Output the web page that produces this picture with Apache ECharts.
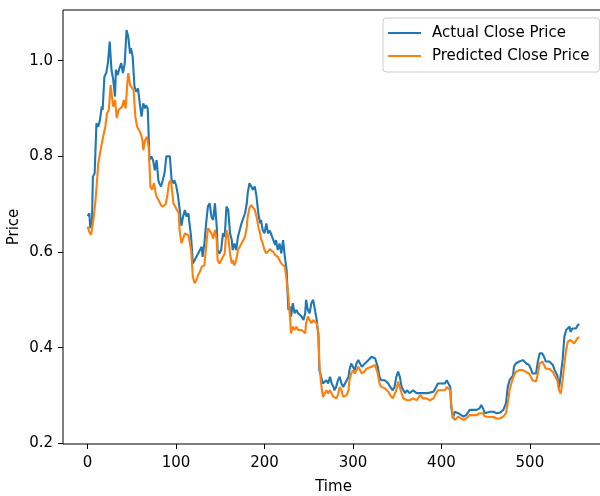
<!DOCTYPE html>
<html>
<head>
<meta charset="utf-8">
<script src="https://cdn.jsdelivr.net/npm/echarts@6/dist/echarts.min.js"></script>
<style>html,body{margin:0;padding:0;background:#fff}#c{width:600px;height:496px}</style>
</head>
<body>
<div id="c"></div>
<script>
const xTicks = [0, 100, 200, 300, 400, 500];
const yTicks = [0.2, 0.4, 0.6, 0.8, 1.0];
const seriesNames = ['Actual Close Price', 'Predicted Close Price'];

// [time, price]
const actualClose = [[0,0.675],[2,0.681],[3,0.650],[5,0.667],[6,0.757],[8,0.765],[10,0.869],[12,0.862],[14,0.876],[16,0.904],[17,0.897],[19,0.967],[21,0.974],[23,0.995],[25,1.040],[27,0.981],[29,0.960],[31,0.925],[32,0.981],[34,0.970],[36,0.984],[38,0.995],[40,0.974],[42,0.995],[44,1.064],[46,1.050],[48,1.015],[49,1.026],[51,1.008],[53,0.946],[55,0.935],[57,0.942],[59,0.911],[61,0.883],[63,0.911],[65,0.900],[66,0.907],[68,0.900],[70,0.792],[72,0.800],[74,0.792],[76,0.771],[78,0.792],[80,0.750],[81,0.744],[83,0.737],[85,0.750],[87,0.765],[89,0.800],[91,0.803],[93,0.800],[95,0.750],[97,0.744],[98,0.750],[100,0.740],[102,0.720],[104,0.690],[106,0.655],[108,0.674],[110,0.688],[112,0.674],[114,0.681],[115,0.663],[117,0.632],[119,0.576],[121,0.583],[123,0.590],[125,0.597],[127,0.604],[129,0.611],[130,0.590],[132,0.618],[134,0.660],[136,0.695],[138,0.702],[140,0.674],[142,0.667],[144,0.702],[146,0.653],[147,0.604],[149,0.597],[151,0.604],[153,0.639],[155,0.632],[157,0.695],[159,0.688],[161,0.639],[163,0.625],[164,0.604],[166,0.618],[168,0.604],[170,0.632],[172,0.646],[174,0.660],[176,0.660],[178,0.681],[180,0.702],[181,0.723],[183,0.744],[185,0.747],[187,0.730],[189,0.737],[191,0.716],[193,0.681],[195,0.660],[196,0.667],[198,0.646],[200,0.639],[202,0.660],[204,0.639],[206,0.645],[208,0.635],[210,0.632],[212,0.615],[213,0.625],[215,0.604],[217,0.618],[219,0.597],[221,0.625],[223,0.590],[225,0.562],[227,0.479],[229,0.486],[230,0.465],[232,0.493],[234,0.472],[236,0.479],[238,0.472],[240,0.476],[242,0.465],[244,0.458],[246,0.472],[247,0.500],[249,0.479],[251,0.472],[253,0.493],[255,0.500],[257,0.479],[259,0.458],[261,0.423],[262,0.353],[264,0.339],[266,0.325],[268,0.328],[270,0.332],[272,0.325],[274,0.339],[276,0.325],[278,0.318],[279,0.311],[281,0.318],[283,0.332],[285,0.339],[287,0.325],[289,0.318],[291,0.325],[293,0.332],[295,0.339],[296,0.353],[298,0.367],[300,0.360],[302,0.353],[304,0.367],[306,0.374],[308,0.367],[310,0.360],[312,0.363],[313,0.366],[315,0.370],[317,0.373],[321,0.381],[323,0.385],[325,0.378],[327,0.374],[328,0.360],[330,0.339],[332,0.332],[334,0.336],[336,0.332],[338,0.329],[340,0.325],[342,0.318],[344,0.315],[345,0.311],[347,0.318],[349,0.339],[351,0.350],[353,0.339],[355,0.318],[357,0.311],[359,0.305],[361,0.311],[362,0.308],[364,0.305],[366,0.308],[368,0.311],[370,0.308],[372,0.305],[374,0.308],[376,0.305],[377,0.308],[379,0.305],[381,0.308],[383,0.305],[385,0.308],[387,0.306],[389,0.305],[391,0.308],[393,0.311],[394,0.318],[396,0.325],[398,0.325],[400,0.325],[402,0.322],[404,0.325],[406,0.332],[408,0.329],[410,0.318],[411,0.277],[413,0.252],[415,0.266],[417,0.266],[419,0.263],[421,0.259],[425,0.256],[428,0.259],[432,0.270],[436,0.270],[440,0.270],[443,0.273],[445,0.280],[447,0.273],[449,0.263],[451,0.266],[455,0.266],[459,0.266],[462,0.263],[466,0.264],[470,0.270],[473,0.284],[475,0.318],[477,0.332],[479,0.332],[481,0.342],[482,0.360],[484,0.367],[486,0.367],[488,0.371],[490,0.367],[492,0.374],[494,0.371],[496,0.367],[497,0.371],[499,0.364],[501,0.356],[503,0.346],[505,0.342],[507,0.346],[509,0.371],[511,0.388],[513,0.392],[514,0.388],[516,0.381],[518,0.371],[520,0.367],[522,0.371],[524,0.367],[526,0.364],[528,0.353],[530,0.353],[531,0.342],[533,0.315],[535,0.311],[537,0.374],[539,0.423],[541,0.437],[543,0.437],[545,0.444],[546,0.433],[548,0.440],[550,0.444],[552,0.440],[554,0.447],[556,0.449]];

const predictedClose = [[0,0.653],[2,0.642],[4,0.636],[5,0.640],[7,0.674],[9,0.709],[11,0.757],[12,0.785],[14,0.806],[16,0.827],[18,0.827],[20,0.862],[22,0.890],[24,0.897],[26,0.949],[28,0.918],[29,0.904],[31,0.918],[33,0.880],[35,0.897],[37,0.900],[39,0.904],[41,0.918],[43,0.900],[45,0.956],[46,0.974],[48,0.949],[50,0.953],[52,0.939],[54,0.883],[56,0.862],[58,0.855],[60,0.848],[62,0.834],[63,0.813],[65,0.834],[67,0.841],[69,0.820],[71,0.737],[73,0.730],[75,0.744],[77,0.723],[78,0.716],[80,0.709],[82,0.706],[84,0.695],[86,0.692],[88,0.699],[90,0.716],[92,0.744],[94,0.750],[95,0.737],[97,0.702],[99,0.695],[101,0.695],[103,0.681],[104,0.646],[106,0.618],[108,0.615],[110,0.639],[112,0.639],[114,0.635],[115,0.625],[117,0.604],[119,0.548],[121,0.535],[123,0.541],[125,0.552],[127,0.559],[129,0.569],[130,0.569],[132,0.572],[134,0.611],[136,0.650],[138,0.653],[140,0.639],[142,0.628],[144,0.646],[146,0.625],[147,0.583],[149,0.576],[151,0.583],[153,0.590],[155,0.597],[157,0.646],[159,0.632],[161,0.597],[163,0.576],[164,0.583],[166,0.572],[168,0.583],[170,0.604],[172,0.611],[174,0.618],[176,0.625],[178,0.632],[180,0.653],[181,0.674],[183,0.692],[185,0.698],[187,0.695],[189,0.688],[191,0.674],[193,0.653],[195,0.639],[196,0.628],[198,0.618],[200,0.604],[202,0.597],[204,0.601],[206,0.606],[208,0.607],[210,0.600],[212,0.594],[213,0.597],[215,0.590],[217,0.583],[219,0.576],[221,0.576],[223,0.569],[225,0.541],[227,0.507],[229,0.458],[230,0.430],[232,0.444],[234,0.437],[236,0.444],[238,0.437],[240,0.440],[242,0.437],[244,0.433],[246,0.430],[247,0.451],[249,0.465],[251,0.458],[253,0.451],[255,0.458],[257,0.461],[259,0.451],[261,0.430],[262,0.367],[264,0.325],[266,0.297],[268,0.304],[270,0.311],[272,0.304],[274,0.311],[276,0.308],[278,0.297],[279,0.294],[281,0.294],[283,0.301],[285,0.318],[287,0.311],[289,0.297],[291,0.294],[293,0.301],[295,0.311],[296,0.332],[298,0.346],[300,0.353],[302,0.346],[304,0.353],[306,0.360],[308,0.353],[310,0.346],[312,0.349],[313,0.350],[315,0.356],[317,0.357],[321,0.360],[323,0.364],[325,0.364],[327,0.360],[328,0.346],[330,0.325],[332,0.318],[334,0.318],[336,0.315],[338,0.311],[340,0.308],[342,0.301],[344,0.297],[345,0.294],[347,0.297],[349,0.311],[351,0.329],[353,0.325],[355,0.305],[357,0.294],[359,0.290],[361,0.290],[362,0.294],[364,0.290],[366,0.290],[368,0.294],[370,0.294],[372,0.290],[374,0.294],[376,0.301],[377,0.297],[379,0.294],[381,0.290],[383,0.294],[385,0.294],[387,0.290],[389,0.290],[391,0.294],[393,0.297],[394,0.305],[396,0.311],[398,0.311],[400,0.311],[402,0.308],[404,0.311],[406,0.318],[408,0.318],[410,0.311],[411,0.284],[413,0.256],[415,0.249],[417,0.252],[419,0.256],[421,0.252],[425,0.249],[428,0.252],[432,0.259],[436,0.259],[440,0.259],[443,0.263],[445,0.266],[447,0.263],[449,0.256],[451,0.255],[455,0.255],[459,0.255],[462,0.252],[466,0.252],[470,0.256],[473,0.263],[475,0.284],[477,0.311],[479,0.325],[481,0.329],[482,0.342],[484,0.349],[486,0.349],[488,0.353],[490,0.349],[492,0.353],[494,0.353],[496,0.349],[497,0.349],[499,0.346],[501,0.339],[503,0.332],[505,0.329],[507,0.329],[509,0.346],[511,0.367],[513,0.371],[514,0.371],[516,0.364],[518,0.356],[520,0.353],[522,0.356],[524,0.353],[526,0.349],[528,0.342],[530,0.339],[531,0.332],[533,0.311],[535,0.304],[537,0.332],[539,0.367],[541,0.395],[543,0.413],[545,0.416],[546,0.416],[548,0.413],[550,0.409],[552,0.413],[554,0.420],[556,0.422]];

const FONT = 'DejaVu Sans';
const FS = 15;
const chart = echarts.init(document.getElementById('c'), null, {renderer: 'canvas'});
chart.setOption({
  animation: false,
  backgroundColor: '#fff',
  grid: {left: 63, top: 10, width: 541, height: 434, containLabel: false, outerBoundsMode: 'none', show: true, borderColor: '#000', borderWidth: 1, backgroundColor: 'transparent'},
  legend: {
    data: seriesNames,
    orient: 'vertical',
    left: 383, top: 18,
    padding: [7, 10, 8, 4],
    itemWidth: 33, itemHeight: 16, itemGap: 7,
    itemStyle: {opacity: 0},
    backgroundColor: 'rgba(255,255,255,0.8)',
    borderColor: '#cccccc', borderWidth: 1, borderRadius: 3,
    textStyle: {fontFamily: FONT, fontSize: FS, color: '#000', lineHeight: 16, padding: [0, 0, 0, 6]}
  },
  xAxis: {
    type: 'value', min: -27.8, max: 583.8,
    name: 'Time', nameLocation: 'middle', nameGap: 36, nameMoveOverlap: false,
    nameTextStyle: {fontFamily: FONT, fontSize: FS, color: '#000'},
    axisLine: {show: false, onZero: false},
    axisTick: {show: true, length: 5, lineStyle: {color: '#000', width: 1}, customValues: xTicks},
    axisLabel: {fontFamily: FONT, fontSize: FS, color: '#000', margin: 12, customValues: xTicks},
    splitLine: {show: false}
  },
  yAxis: {
    type: 'value', min: 0.1986, max: 1.106,
    name: 'Price', nameLocation: 'middle', nameGap: 41, nameMoveOverlap: false,
    nameTextStyle: {fontFamily: FONT, fontSize: FS, color: '#000'},
    axisLine: {show: false, onZero: false},
    axisTick: {show: true, length: 5, lineStyle: {color: '#000', width: 1}, customValues: yTicks},
    axisLabel: {fontFamily: FONT, fontSize: FS, color: '#000', margin: 10, customValues: yTicks, formatter: v => v.toFixed(1)},
    splitLine: {show: false}
  },
  series: [
    {name: seriesNames[0], type: 'line', data: actualClose, symbol: 'none', lineStyle: {color: '#1f77b4', width: 2.1}, itemStyle: {color: '#1f77b4'}},
    {name: seriesNames[1], type: 'line', data: predictedClose, symbol: 'none', lineStyle: {color: '#ff7f0e', width: 2.1}, itemStyle: {color: '#ff7f0e'}}
  ]
});
</script>
</body>
</html>
